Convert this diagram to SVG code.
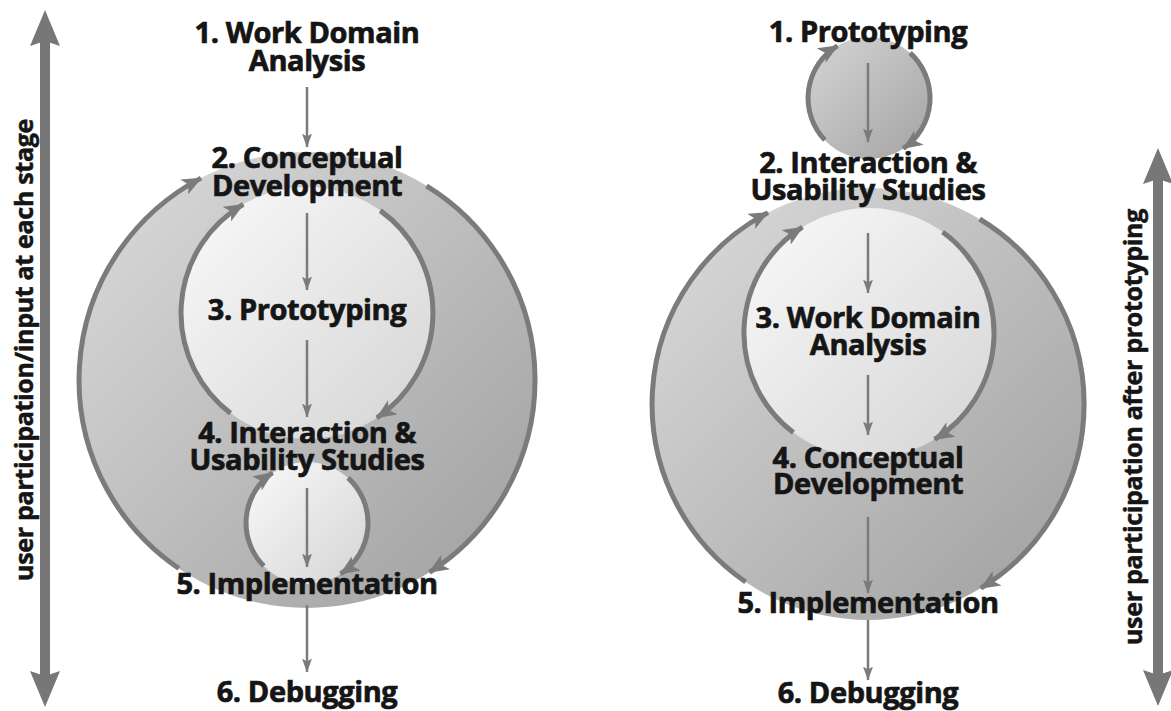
<svg xmlns="http://www.w3.org/2000/svg" width="1171" height="711" viewBox="0 0 1171 711">
<style>
.lbl{font-family:"Open Sans","Liberation Sans",sans-serif;font-weight:700;font-size:29px;fill:#151515;stroke:#151515;stroke-width:0.7px;text-anchor:middle;letter-spacing:-0.4px}
.side{font-family:"Open Sans","Liberation Sans",sans-serif;font-weight:700;font-size:25px;fill:#151515;stroke:#151515;stroke-width:0.5px;text-anchor:middle;letter-spacing:-0.3px}
.arc{fill:none;stroke:#7b7b7b;stroke-width:5}
.conn{fill:none;stroke:#7b7b7b;stroke-width:2.5}
.big{fill:none;stroke:#777;stroke-width:10}
</style>
<defs>
<linearGradient id="gOuter" x1="0.1" y1="0.1" x2="0.9" y2="0.9">
<stop offset="0" stop-color="#d6d6d6"/><stop offset="1" stop-color="#a4a4a4"/>
</linearGradient>
<linearGradient id="gInner" x1="0.1" y1="0.1" x2="0.9" y2="0.9">
<stop offset="0" stop-color="#f6f6f6"/><stop offset="1" stop-color="#d8d8d8"/>
</linearGradient>
<linearGradient id="gMid" x1="0.1" y1="0.1" x2="0.9" y2="0.9">
<stop offset="0" stop-color="#d0d0d0"/><stop offset="1" stop-color="#a8a8a8"/>
</linearGradient>
<marker id="arcHead" markerUnits="userSpaceOnUse" viewBox="0 0 20 17" markerWidth="20" markerHeight="17" refX="19" refY="8.5" orient="auto">
<path d="M0,0 L20,8.5 L0,17 L5,8.5 z" fill="#7b7b7b"/>
</marker>
<marker id="lineHead" markerUnits="userSpaceOnUse" viewBox="0 0 14 10" markerWidth="14" markerHeight="10" refX="13.5" refY="5" orient="auto">
<path d="M0,0 L14,5 L0,10 L3,5 z" fill="#7b7b7b"/>
</marker>
</defs>

<g id="left-shapes">
<circle cx="307" cy="380" r="228" fill="url(#gOuter)"/>
<circle cx="307" cy="313" r="126" fill="url(#gInner)"/>
<circle cx="307" cy="523" r="61" fill="url(#gInner)"/>
</g>
<g id="right-shapes">
<circle cx="868" cy="404" r="216" fill="url(#gOuter)"/>
<circle cx="869" cy="333" r="125" fill="url(#gInner)"/>
<circle cx="869" cy="98" r="61" fill="url(#gMid)"/>
</g>

<g id="connectors">
<path class="arc" d="M178.9,568.5 A228,228 0 0 1 201,178.1" marker-end="url(#arcHead)"/>
<path class="arc" d="M426.5,185.8 A228,228 0 0 1 429.5,572.3" marker-end="url(#arcHead)"/>
<path class="arc" d="M230.6,413.2 A126,126 0 0 1 243.2,204.4" marker-end="url(#arcHead)"/>
<path class="arc" d="M380.3,210.6 A126,126 0 0 1 376.9,417.8" marker-end="url(#arcHead)"/>
<path class="arc" d="M263.9,566.1 A61,61 0 0 1 272.5,472.7" marker-end="url(#arcHead)"/>
<path class="arc" d="M348.1,477.9 A61,61 0 0 1 340.6,573.9" marker-end="url(#arcHead)"/>
<path class="arc" d="M745.7,582 A216,216 0 0 1 768,212.6" marker-end="url(#arcHead)"/>
<path class="arc" d="M979.6,219 A216,216 0 0 1 980.9,588.2" marker-end="url(#arcHead)"/>
<path class="arc" d="M793.4,432.6 A125,125 0 0 1 802.4,227.2" marker-end="url(#arcHead)"/>
<path class="arc" d="M942.6,232 A125,125 0 0 1 934.7,439.4" marker-end="url(#arcHead)"/>
<path class="arc" d="M824.9,140.1 A61,61 0 0 1 837.5,45.8" marker-end="url(#arcHead)"/>
<path class="arc" d="M910.1,52.9 A61,61 0 0 1 903.3,148.5" marker-end="url(#arcHead)"/>
<path class="conn" d="M307,87 V147" marker-end="url(#lineHead)"/>
<path class="conn" d="M307,213 V290" marker-end="url(#lineHead)"/>
<path class="conn" d="M307,340 V417" marker-end="url(#lineHead)"/>
<path class="conn" d="M307,488 V567" marker-end="url(#lineHead)"/>
<path class="conn" d="M307,605 V672" marker-end="url(#lineHead)"/>
<path class="conn" d="M868,63 V142" marker-end="url(#lineHead)"/>
<path class="conn" d="M868,233 V293" marker-end="url(#lineHead)"/>
<path class="conn" d="M868,375 V435" marker-end="url(#lineHead)"/>
<path class="conn" d="M868,517 V593" marker-end="url(#lineHead)"/>
<path class="conn" d="M868,620 V680" marker-end="url(#lineHead)"/>
<path class="big" d="M45,40 V680"/>
<path d="M45,10 L60,46 L45,41 L30,46 z" fill="#777"/>
<path d="M45,707 L60,671 L45,676 L30,671 z" fill="#777"/>
<path class="big" d="M1158,178 V678"/>
<path d="M1158,148 L1173,184 L1158,179 L1143,184 z" fill="#777"/>
<path d="M1158,706 L1173,670 L1158,675 L1143,670 z" fill="#777"/>
</g>

<g id="left-n1"><text class="lbl" x="307" y="43">1. Work Domain<tspan x="307" dy="28">Analysis</tspan></text></g>
<g id="left-n2"><text class="lbl" x="307" y="168">2. Conceptual<tspan x="307" dy="28">Development</tspan></text></g>
<g id="left-n3"><text class="lbl" x="307" y="320">3. Prototyping</text></g>
<g id="left-n4"><text class="lbl" x="307" y="443">4. Interaction &amp;<tspan x="307" dy="27">Usability Studies</tspan></text></g>
<g id="left-n5"><text class="lbl" x="307" y="594">5. Implementation</text></g>
<g id="left-n6"><text class="lbl" x="307" y="702">6. Debugging</text></g>
<g id="left-side"><text class="side" transform="translate(33,350) rotate(-90)">user participation/input at each stage</text></g>

<g id="right-n1"><text class="lbl" x="868" y="42">1. Prototyping</text></g>
<g id="right-n2"><text class="lbl" x="868" y="173">2. Interaction &amp;<tspan x="868" dy="27">Usability Studies</tspan></text></g>
<g id="right-n3"><text class="lbl" x="868" y="328">3. Work Domain<tspan x="868" dy="27">Analysis</tspan></text></g>
<g id="right-n4"><text class="lbl" x="868" y="468">4. Conceptual<tspan x="868" dy="26">Development</tspan></text></g>
<g id="right-n5"><text class="lbl" x="868" y="613">5. Implementation</text></g>
<g id="right-n6"><text class="lbl" x="868" y="703">6. Debugging</text></g>
<g id="right-side"><text class="side" transform="translate(1142,427) rotate(-90)">user participation after prototyping</text></g>
</svg>
